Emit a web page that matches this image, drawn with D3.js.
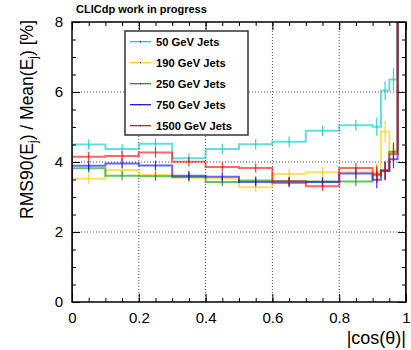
<!DOCTYPE html>
<html>
<head>
<meta charset="utf-8">
<script src="https://cdn.jsdelivr.net/npm/d3@7"></script>
<style>
  body { margin: 0; background: #fff; }
  text { font-family: "Liberation Sans", Arial, sans-serif; }
</style>
</head>
<body>
<div id="chart"></div>
<script>
// bin edges in |cos(theta)| (finer binning in the forward region)
var binEdges = [0, 0.1, 0.2, 0.3, 0.4, 0.5, 0.6, 0.7, 0.8, 0.9, 0.925, 0.95, 0.975, 1.0];

// RMS90/Mean [%] per bin, last bin is off scale
var jets50   = [4.50, 4.37, 4.52, 4.11, 4.37, 4.51, 4.58, 4.89, 5.05, 5.01, 6.04, 6.36, 10];
var jets190  = [3.52, 3.77, 3.63, 3.55, 3.53, 3.28, 3.66, 3.71, 3.71, 3.72, 4.87, 4.29, 10];
var jets250  = [3.82, 3.61, 3.59, 3.57, 3.43, 3.47, 3.46, 3.44, 3.44, 3.62, 3.77, 4.29, 10];
var jets750  = [3.89, 3.96, 3.90, 3.61, 3.58, 3.43, 3.41, 3.43, 3.67, 3.49, 3.74, 4.08, 10];
var jets1500 = [4.15, 4.17, 4.27, 4.01, 3.86, 3.83, 3.44, 3.31, 3.83, 3.66, 3.75, 4.23, 10];

// statistical errors
var err50   = [0.15, 0.14, 0.15, 0.14, 0.15, 0.15, 0.15, 0.15, 0.16, 0.26, 0.27, 0.32, 0];
var err190  = [0.14, 0.14, 0.14, 0.13, 0.13, 0.13, 0.14, 0.14, 0.14, 0.24, 0.30, 0.28, 0];
var err250  = [0.13, 0.13, 0.13, 0.13, 0.12, 0.12, 0.12, 0.12, 0.13, 0.22, 0.25, 0.27, 0];
var err750  = [0.14, 0.14, 0.14, 0.13, 0.13, 0.13, 0.13, 0.13, 0.14, 0.24, 0.26, 0.26, 0];
var err1500 = [0.14, 0.14, 0.14, 0.14, 0.13, 0.13, 0.13, 0.13, 0.14, 0.24, 0.26, 0.27, 0];

var labels = ["50 GeV Jets", "190 GeV Jets", "250 GeV Jets", "750 GeV Jets", "1500 GeV Jets"];
var colors = ["#00c8c8", "#ffc800", "#009900", "#0000ff", "#ff0000"];

var xMajor = [0, 0.2, 0.4, 0.6, 0.8, 1];
var yMajor = [0, 2, 4, 6, 8];

var series = [
  {name: labels[0], color: colors[0], vals: jets50, errs: err50},
  {name: labels[1], color: colors[1], vals: jets190, errs: err190},
  {name: labels[2], color: colors[2], vals: jets250, errs: err250},
  {name: labels[3], color: colors[3], vals: jets750, errs: err750},
  {name: labels[4], color: colors[4], vals: jets1500, errs: err1500}
];

var svgWidth = 411, svgHeight = 350;
var margin = {top: 22, right: 5, bottom: 48, left: 72};
var width = svgWidth - margin.left - margin.right;
var height = svgHeight - margin.top - margin.bottom;

var svg = d3.select("#chart").append("svg")
  .attr("width", svgWidth)
  .attr("height", svgHeight);

var chartGroup = svg.append("g")
  .attr("transform", `translate(${margin.left}, ${margin.top})`);

var x = d3.scaleLinear().domain([0, 1]).range([0, width]);
var y = d3.scaleLinear().domain([0, 8]).range([height, 0]);

// grid
chartGroup.append("g").selectAll("line")
  .data(xMajor.slice(1, -1))
  .enter().append("line")
  .attr("x1", d => x(d)).attr("x2", d => x(d))
  .attr("y1", 0).attr("y2", height)
  .attr("stroke", "#555").attr("stroke-dasharray", "1,2");
chartGroup.append("g").selectAll("line")
  .data(yMajor.slice(1, -1))
  .enter().append("line")
  .attr("y1", d => y(d)).attr("y2", d => y(d))
  .attr("x1", 0).attr("x2", width)
  .attr("stroke", "#555").attr("stroke-dasharray", "1,2");

// clip to frame
svg.append("defs").append("clipPath").attr("id", "clip")
  .append("rect").attr("width", width).attr("height", height);

var plotArea = chartGroup.append("g").attr("clip-path", "url(#clip)");

// histogram outline starting and ending at zero
function histPath(vals) {
  var p = d3.path();
  p.moveTo(x(binEdges[0]), y(0));
  vals.forEach(function(v, i) {
    p.lineTo(x(binEdges[i]), y(v));
    p.lineTo(x(binEdges[i + 1]), y(v));
  });
  p.lineTo(x(binEdges[binEdges.length - 1]), y(0));
  return p.toString();
}

series.forEach(function(s) {
  plotArea.append("path")
    .attr("d", histPath(s.vals))
    .attr("fill", "none")
    .attr("stroke", s.color)
    .attr("stroke-width", 2)
    .attr("stroke-opacity", 0.6);

  var errData = s.vals.map(function(v, i) {
    return {c: (binEdges[i] + binEdges[i + 1]) / 2, v: v, e: s.errs[i]};
  }).filter(d => d.v < 8);

  plotArea.append("g").selectAll("line")
    .data(errData)
    .enter().append("line")
    .attr("x1", d => x(d.c)).attr("x2", d => x(d.c))
    .attr("y1", d => y(d.v - d.e)).attr("y2", d => y(d.v + d.e))
    .attr("stroke", s.color)
    .attr("stroke-width", 1.2)
    .attr("stroke-opacity", 0.8);
});

// axes, ticks inside the frame
function clean(g) { g.select(".domain").remove(); g.selectAll("line").attr("stroke", "#000"); }

var xMinor = d3.range(0, 1.0001, 0.05).map(d => +d.toFixed(2));
var yMinor = d3.range(0, 8.0001, 0.5);

chartGroup.append("g").attr("transform", `translate(0, ${height})`)
  .call(d3.axisBottom(x).tickValues(xMinor).tickSize(-4).tickFormat("")).call(clean);
chartGroup.append("g").attr("transform", `translate(0, ${height})`)
  .call(d3.axisBottom(x).tickValues(xMajor).tickSize(-8).tickPadding(10).tickFormat(d => d))
  .call(clean)
  .selectAll("text").attr("font-size", 15).attr("fill", "#000");
chartGroup.append("g")
  .call(d3.axisTop(x).tickValues(xMinor).tickSize(-4).tickFormat("")).call(clean);
chartGroup.append("g")
  .call(d3.axisTop(x).tickValues(xMajor).tickSize(-8).tickFormat("")).call(clean);

chartGroup.append("g")
  .call(d3.axisLeft(y).tickValues(yMinor).tickSize(-4).tickFormat("")).call(clean);
chartGroup.append("g")
  .call(d3.axisLeft(y).tickValues(yMajor).tickSize(-8).tickPadding(9).tickFormat(d => d))
  .call(clean)
  .selectAll("text").attr("font-size", 15).attr("fill", "#000");
chartGroup.append("g").attr("transform", `translate(${width}, 0)`)
  .call(d3.axisRight(y).tickValues(yMinor).tickSize(-4).tickFormat("")).call(clean);
chartGroup.append("g").attr("transform", `translate(${width}, 0)`)
  .call(d3.axisRight(y).tickValues(yMajor).tickSize(-8).tickFormat("")).call(clean);

// frame
chartGroup.append("rect")
  .attr("width", width).attr("height", height)
  .attr("fill", "none").attr("stroke", "#000").attr("stroke-width", 1.5);

// legend
var legend = svg.append("g").attr("transform", "translate(125, 31)");
legend.append("rect")
  .attr("width", 123).attr("height", 104)
  .attr("fill", "#fff").attr("stroke", "#333").attr("stroke-width", 1.5);
var items = legend.selectAll("g.item").data(series).enter().append("g")
  .attr("transform", (d, i) => `translate(0, ${10.7 + i * 21})`);
items.append("line")
  .attr("x1", 5).attr("x2", 26).attr("y1", 0).attr("y2", 0)
  .attr("stroke", d => d.color).attr("stroke-width", 1.2);
items.append("line")
  .attr("x1", 15.5).attr("x2", 15.5).attr("y1", -0.5).attr("y2", 0.5)
  .attr("stroke", "#000");
items.append("text")
  .attr("x", 31).attr("y", 4)
  .attr("font-size", 11.2).attr("font-weight", "bold")
  .text(d => d.name);

// titles
svg.append("text")
  .attr("x", 76).attr("y", 13)
  .attr("font-size", 11).attr("font-weight", "bold")
  .text("CLICdp work in progress");

svg.append("text")
  .attr("x", 406).attr("y", 344)
  .attr("text-anchor", "end")
  .attr("font-size", 18)
  .text("|cos(θ)|");

var yTitle = svg.append("text")
  .attr("transform", "translate(33, 20) rotate(-90)")
  .attr("text-anchor", "end")
  .attr("font-size", 17.5);
yTitle.append("tspan").text("RMS90(E");
yTitle.append("tspan").attr("dy", 4).attr("font-size", 12).text("j");
yTitle.append("tspan").attr("dy", -4).text(") / Mean(E");
yTitle.append("tspan").attr("dy", 4).attr("font-size", 12).text("j");
yTitle.append("tspan").attr("dy", -4).text(") [%]");
</script>
</body>
</html>
